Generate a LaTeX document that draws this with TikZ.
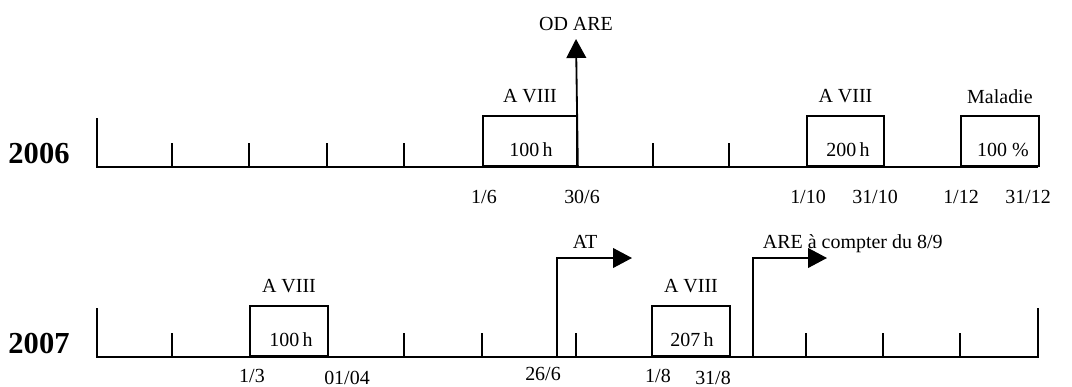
\documentclass[tikz,border=0pt]{standalone}
\usepackage{fontspec}
\setmainfont{Liberation Serif}
\usetikzlibrary{arrows.meta,positioning}

\begin{document}
\begin{tikzpicture}[x=0.025cm, y=-0.025cm, line width=1.3pt, >={Triangle[length=13.5pt,width=14pt]},
        every node/.style={inner sep=0pt, font=\fontsize{14.2}{17}\selectfont},
        year/.style={font=\fontsize{21.7}{26}\selectfont\bfseries, anchor=base},
        period/.style={draw, anchor=south west, minimum height=1.25cm},
        date/.style={anchor=base}]
        \useasboundingbox (0,0) rectangle (1072,387);

        % 2006
        \node[year] (y06) at (39,163) {2006};
        \draw (97,118) -- (97,167) -- (1038,167);
        \foreach \x in {172,249,327,404,653,729}
        \draw (\x,143) -- (\x,167);

        \node[period, minimum width=2.35cm] (b06a) at (482,167) {};
        \node[period, minimum width=1.925cm] (b06b) at (806,167) {};
        \node[period, minimum width=1.95cm] (b06c) at (960,167) {};
        \node[above=0.275cm of b06a.north] {A VIII};
        \node[above=0.275cm of b06b.north] {A VIII};
        \node[above=0.275cm of b06c.north] {Maladie};
        \node[anchor=base] at (531,156) {100\,h};
        \node[anchor=base] at (848,156) {200\,h};
        \node[anchor=base] at (1003,156) {100 \%};

        % OD ARE
        \coordinate (odtip) at (576,39);
        \node[above=0.175cm of odtip] (odare) {OD ARE};
        \draw[->] (b06a.south east) -- (odtip);

        \node[date] at (484,203) {1/6};
        \node[date] at (582,203) {30/6};
        \node[date] at (808,203) {1/10};
        \node[date] at (875,203) {31/10};
        \node[date] at (961,203) {1/12};
        \node[date] at (1028,203) {31/12};

        % 2007
        \node[year] (y07) at (39,353) {2007};
        \draw (97,308) -- (97,357) -- (1038,357) -- (1038,308);
        \foreach \x in {172,404,482,576,806,883,960}
        \draw (\x,333) -- (\x,357);

        \node[period, minimum width=1.95cm] (b07a) at (249,357) {};
        \node[period, minimum width=1.95cm] (b07b) at (651,357) {};
        \node[above=0.275cm of b07a.north] {A VIII};
        \node[above=0.275cm of b07b.north] {A VIII};
        \node[anchor=base] at (291,346) {100\,h};
        \node[anchor=base] at (692,346) {207\,h};

        % AT / ARE
        \coordinate (atfoot) at (557,357);
        \coordinate (atcorner) at (557,258);
        \coordinate (attip) at (632,258);
        \node[anchor=base] (atlbl) at (585,248) {AT};
        \draw[->] (atfoot) -- (atcorner) -- (attip);

        \coordinate (arefoot) at (753,357);
        \coordinate (arecorner) at (753,258);
        \coordinate (aretip) at (827,258);
        \node[anchor=base west] (arelbl) at (762,248) {ARE à compter du 8/9};
        \draw[->] (arefoot) -- (arecorner) -- (aretip);

        \node[date] at (252,382) {1/3};
        \node[date] at (347,384) {01/04};
        \node[date] at (543,380) {26/6};
        \node[date] at (658,382) {1/8};
        \node[date] at (713,384) {31/8};
    \end{tikzpicture}
\end{document}
